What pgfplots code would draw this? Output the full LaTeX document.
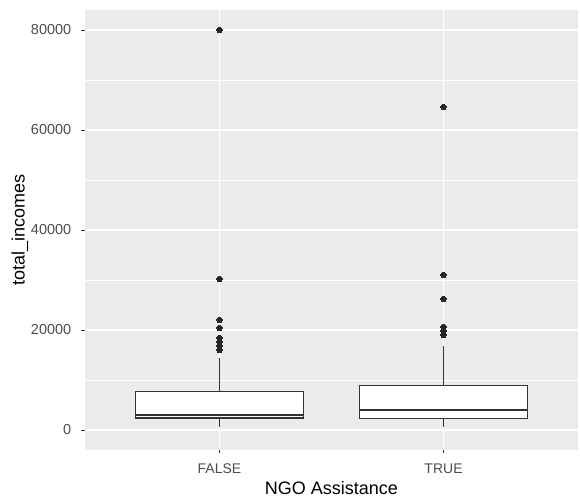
\documentclass[border=0pt]{standalone}
\usepackage{pgfplots}
\pgfplotsset{compat=1.18}
\usepackage{fontspec}
\setmainfont{Liberation Sans}
\definecolor{panelbg}{HTML}{EBEBEB}
\definecolor{grey20}{HTML}{333333}
\definecolor{grey30}{HTML}{4D4D4D}
\begin{document}
\begin{tikzpicture}
\begin{axis}[
  scale only axis, width=493bp, height=440bp,
  xmin=0.4, xmax=2.6, ymin=-4000, ymax=84000,
  axis background/.style={fill=panelbg},
  axis line style={draw=none},
  xtick={1,2}, xticklabels={FALSE,TRUE},
  ytick={0,20000,40000,60000,80000},
  yticklabels={0,20000,40000,60000,80000},
  minor ytick={10000,30000,50000,70000},
  scaled y ticks=false,
  grid=both,
  major grid style={white, line width=1.1bp},
  minor grid style={white, line width=0.55bp},
  tick align=outside,
  major tick length=3.5bp, minor tick length=0pt,
  tick style={grey20, line width=0.8bp},
  xtick pos=bottom, ytick pos=left,
  yticklabel style={font=\fontsize{14.5bp}{16bp}\selectfont, text=grey30, inner sep=0pt, anchor=east, xshift=-10bp},
  xticklabel style={font=\fontsize{14bp}{16bp}\selectfont, text=grey30, inner sep=0pt, anchor=base, yshift=-20bp},
  xlabel={NGO Assistance}, ylabel={total\_incomes},
  every axis y label/.style={at={(rel axis cs:0,0.5)}, xshift=-65bp, rotate=90, anchor=center,
    font=\fontsize{18bp}{20bp}\selectfont},
  every axis x label/.style={at={(rel axis cs:0.5,0)}, yshift=-38bp, anchor=center,
    font=\fontsize{18bp}{20bp}\selectfont},
  boxline/.style={draw=grey20, line width=1.1bp, mark=none},
  outl/.style={only marks, mark=*, mark size=2.7bp, mark options={fill=black!85, draw=black!85, line width=0pt}},
]
% FALSE
\addplot[boxline] coordinates {(1,500) (1,2400)};
\addplot[boxline] coordinates {(1,7730) (1,14300)};
\addplot[boxline, fill=white] coordinates {(0.625,2400) (1.375,2400) (1.375,7730) (0.625,7730)} -- cycle;
\addplot[boxline, line width=2.2bp] coordinates {(0.625,3000) (1.375,3000)};
\addplot[outl] coordinates {(1,80000) (1,30200) (1,22000) (1,20400) (1,18400) (1,17600) (1,16800) (1,16000)};
% TRUE
\addplot[boxline] coordinates {(2,500) (2,2260)};
\addplot[boxline] coordinates {(2,8930) (2,16860)};
\addplot[boxline, fill=white] coordinates {(1.625,2260) (2.375,2260) (2.375,8930) (1.625,8930)} -- cycle;
\addplot[boxline, line width=2.2bp] coordinates {(1.625,4060) (2.375,4060)};
\addplot[outl] coordinates {(2,64600) (2,31000) (2,26200) (2,20600) (2,19800) (2,19000)};
\coordinate (ll) at (rel axis cs:0,0);
\coordinate (ur) at (rel axis cs:1,1);
\end{axis}
\pgfresetboundingbox
\path ([xshift=-85bp,yshift=-52bp]ll) rectangle ([xshift=2bp,yshift=10bp]ur);
\end{tikzpicture}
\end{document}
